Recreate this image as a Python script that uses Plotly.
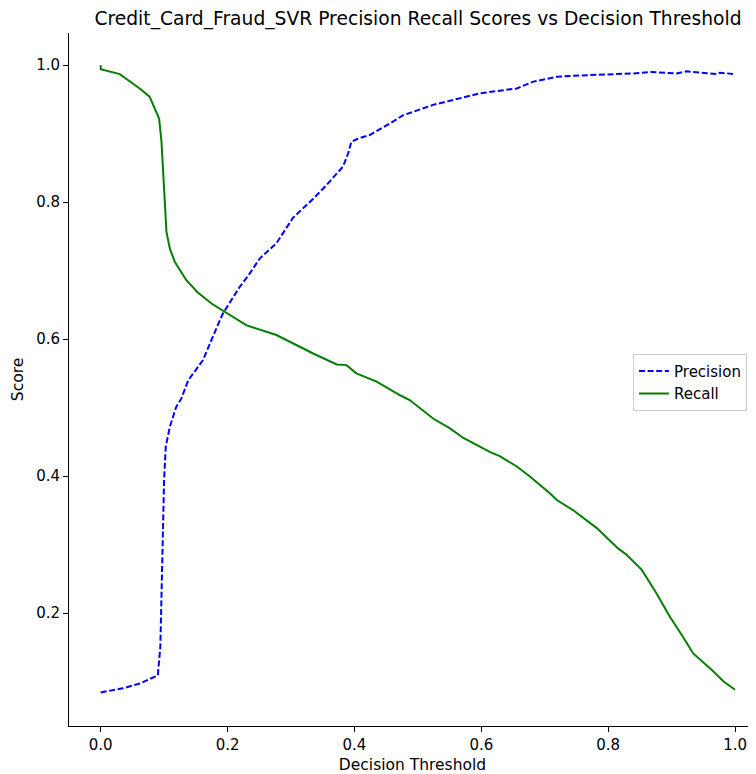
import plotly.graph_objects as go

# Decision thresholds and scores
precision_x = [0, 0.035, 0.0615, 0.090, 0.094, 0.0967, 0.098, 0.0999, 0.1025, 0.109, 0.119, 0.127,
               0.138, 0.161, 0.188, 0.193, 0.219, 0.235, 0.251, 0.277, 0.303, 0.335, 0.356, 0.382,
               0.390, 0.393, 0.395, 0.406, 0.424, 0.456, 0.477, 0.524, 0.598, 0.656, 0.682, 0.719,
               0.755, 0.840, 0.866, 0.908, 0.924, 0.971, 0.976, 1.0]
precision_y = [0.084, 0.090, 0.097, 0.109, 0.151, 0.248, 0.321, 0.394, 0.443, 0.472, 0.501, 0.513,
               0.540, 0.569, 0.628, 0.638, 0.676, 0.696, 0.718, 0.740, 0.777, 0.805, 0.825, 0.852,
               0.871, 0.880, 0.888, 0.893, 0.898, 0.915, 0.927, 0.942, 0.959, 0.966, 0.976, 0.983,
               0.985, 0.988, 0.990, 0.988, 0.991, 0.987, 0.989, 0.987]

recall_x = [0, 0, 0.030, 0.0615, 0.077, 0.092, 0.0957, 0.0994, 0.1036, 0.109, 0.1167, 0.135,
            0.153, 0.1746, 0.198, 0.230, 0.277, 0.314, 0.335, 0.372, 0.3875, 0.403, 0.435, 0.472,
            0.487, 0.524, 0.550, 0.571, 0.614, 0.629, 0.656, 0.677, 0.708, 0.719, 0.745, 0.782,
            0.816, 0.829, 0.853, 0.876, 0.897, 0.918, 0.934, 0.963, 0.982, 1.0]
recall_y = [1.0, 0.994, 0.987, 0.966, 0.954, 0.922, 0.890, 0.818, 0.757, 0.732, 0.713, 0.686,
            0.668, 0.652, 0.638, 0.620, 0.606, 0.588, 0.579, 0.563, 0.562, 0.550, 0.538, 0.518,
            0.511, 0.484, 0.470, 0.456, 0.435, 0.429, 0.414, 0.399, 0.375, 0.365, 0.350, 0.324,
            0.294, 0.285, 0.263, 0.229, 0.195, 0.165, 0.141, 0.117, 0.100, 0.088]

x_ticks = [0.0, 0.2, 0.4, 0.6, 0.8, 1.0]
y_ticks = [0.2, 0.4, 0.6, 0.8, 1.0]

FONT = "DejaVu Sans"
OFF = 8  # page body margin in the browser
W, H = 756 - OFF, 774 - OFF

fig = go.Figure()
fig.add_trace(go.Scatter(x=precision_x, y=precision_y, mode="lines", name="Precision",
                         line=dict(color="blue", width=2, dash="6px,2.6px")))
fig.add_trace(go.Scatter(x=recall_x, y=recall_y, mode="lines", name="Recall",
                         line=dict(color="green", width=2)))

axis_common = dict(showline=True, linecolor="black", linewidth=1, mirror=False,
                   ticks="outside", ticklen=5, tickwidth=1, tickcolor="black",
                   showgrid=False, zeroline=False,
                   tickfont=dict(family=FONT, size=15, color="black"))

fig.update_layout(
    width=W, height=H,
    margin=dict(l=69 - OFF, r=0, t=33 - OFF, b=48, pad=0),
    paper_bgcolor="white", plot_bgcolor="white",
    font=dict(family=FONT, color="black"),
    title=dict(text="Credit_Card_Fraud_SVR Precision Recall Scores vs Decision Threshold",
               font=dict(family=FONT, size=18.7, color="black"),
               xref="container", x=(418 - OFF) / W, xanchor="center",
               yref="container", y=1 - (18 - OFF) / H, yanchor="middle"),
    xaxis=dict(range=[-0.05, 1.033], tickvals=x_ticks, tickformat=".1f",
               title=dict(text="Decision Threshold", font=dict(family=FONT, size=15.5, color="black"),
                          standoff=7),
               **axis_common),
    yaxis=dict(range=[0.035, 1.047], tickvals=y_ticks, tickformat=".1f",
               title=dict(text="Score", font=dict(family=FONT, size=15.5, color="black"),
                          standoff=8),
               **axis_common),
    legend=dict(x=0.821, y=0.537, xanchor="left", yanchor="top",
                bgcolor="rgba(255,255,255,0.8)", bordercolor="#cccccc", borderwidth=1,
                font=dict(family=FONT, size=15, color="black"),
                tracegroupgap=0, itemwidth=30),
    showlegend=True,
)

fig.write_html("out.html")
